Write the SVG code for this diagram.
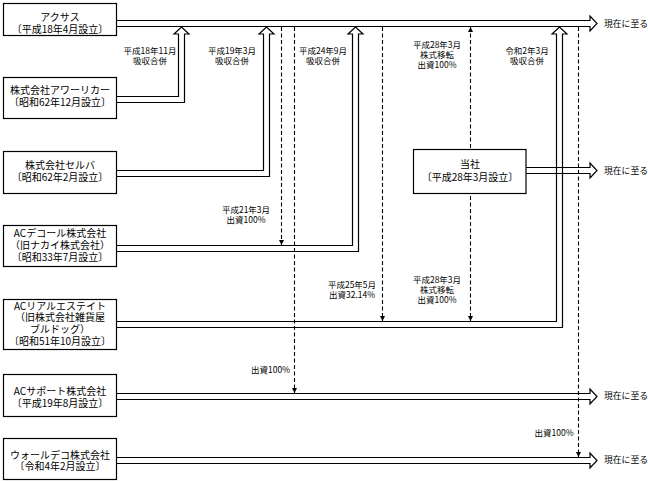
<svg xmlns="http://www.w3.org/2000/svg" width="648" height="483" viewBox="0 0 648 483">
<style>
.box{fill:#fff;stroke:#000;stroke-width:1.2}
.arr{fill:none;stroke:#000;stroke-width:1.2;stroke-linejoin:miter}
.dash{fill:none;stroke:#000;stroke-width:1.1;stroke-dasharray:4,2.5}
.bt{font-family:"Noto Sans CJK JP","Noto Sans CJK SC",sans-serif;font-size:10px;text-anchor:middle;fill:#000}
.lt{font-family:"Noto Sans CJK JP","Noto Sans CJK SC",sans-serif;font-size:8.5px;text-anchor:middle;fill:#000}
.rt{font-family:"Noto Sans CJK JP","Noto Sans CJK SC",sans-serif;font-size:8.8px;fill:#000}
</style>
<defs>
<marker id="ah" viewBox="0 0 6 6" refX="6" refY="3" markerWidth="5" markerHeight="5" orient="auto-start-reverse" markerUnits="userSpaceOnUse">
<path d="M0,0 L6,3 L0,6 z" fill="#000"/>
</marker>
</defs>
<rect width="648" height="483" fill="#fff"/>
<g id="connectors">
<path class="arr" d="M116.5,20.5 H590 V16 L597,23.5 L590,31 V26.5 H116.5"/>
<path class="arr" d="M116.5,96.5 H178.5 V34 H174 L181.5,27 L189,34 H184.5 V102.5 H116.5"/>
<path class="arr" d="M116.5,170.5 H263.5 V34 H259 L266.5,27 L274,34 H269.5 V176.5 H116.5"/>
<path class="arr" d="M116.5,245.5 H352.5 V34 H348 L355.5,27 L363,34 H358.5 V251.5 H116.5"/>
<path class="arr" d="M116.5,321.5 H556.5 V34 H552 L559.5,27 L567,34 H562.5 V327.5 H116.5"/>
<path class="arr" d="M526,167.5 H590 V163 L597,170.5 L590,178 V173.5 H526"/>
<path class="arr" d="M116.5,393.5 H590 V389 L597,396.5 L590,404 V399.5 H116.5"/>
<path class="arr" d="M116.5,457.5 H590 V453 L597,460.5 L590,468 V463.5 H116.5"/>
<path class="dash" d="M281.5,27 V245" marker-end="url(#ah)"/>
<path class="dash" d="M294.5,27 V393" marker-end="url(#ah)"/>
<path class="dash" d="M382.5,27 V321" marker-end="url(#ah)"/>
<path class="dash" d="M470.5,27 V321" marker-start="url(#ah)" marker-end="url(#ah)"/>
<path class="dash" d="M578.5,27 V457" marker-end="url(#ah)"/>
</g>
<g id="labels">
<text class="lt" x="150" y="54">平成18年11月</text>
<text class="lt" x="150" y="64">吸収合併</text>
<text class="lt" x="232" y="54">平成19年3月</text>
<text class="lt" x="232" y="64">吸収合併</text>
<text class="lt" x="323" y="54">平成24年9月</text>
<text class="lt" x="323" y="64">吸収合併</text>
<text class="lt" x="437" y="48">平成28年3月</text>
<text class="lt" x="437" y="58">株式移転</text>
<text class="lt" x="437" y="68">出資100%</text>
<text class="lt" x="527" y="54">令和2年3月</text>
<text class="lt" x="527" y="64">吸収合併</text>
<text class="lt" x="246" y="213">平成21年3月</text>
<text class="lt" x="246" y="223">出資100%</text>
<text class="lt" x="352" y="288">平成25年5月</text>
<text class="lt" x="352" y="298">出資32.14%</text>
<text class="lt" x="437" y="283">平成28年3月</text>
<text class="lt" x="437" y="293">株式移転</text>
<text class="lt" x="437" y="303">出資100%</text>
<text class="lt" x="290" y="373" style="text-anchor:end">出資100%</text>
<text class="lt" x="554" y="436">出資100%</text>
<text class="rt" x="604" y="27">現在に至る</text>
<text class="rt" x="604" y="174">現在に至る</text>
<text class="rt" x="604" y="399">現在に至る</text>
<text class="rt" x="604" y="463">現在に至る</text>
</g>
<g id="axsas">
<rect class="box" x="3.5" y="3.5" width="113" height="32"/>
<text class="bt" x="60" y="20.5">アクサス</text>
<text class="bt" x="60" y="33">〔平成18年4月設立〕</text>
</g>
<g id="aworeker">
<rect class="box" x="3.5" y="77.5" width="113" height="41"/>
<text class="bt" x="60" y="93.5">株式会社アワーリカー</text>
<text class="bt" x="60" y="105.5">〔昭和62年12月設立〕</text>
</g>
<g id="selba">
<rect class="box" x="3.5" y="151.5" width="113" height="42"/>
<text class="bt" x="60" y="168.5">株式会社セルバ</text>
<text class="bt" x="60" y="180.5">〔昭和62年2月設立〕</text>
</g>
<g id="acdecor">
<rect class="box" x="3.5" y="225.5" width="113" height="41"/>
<text class="bt" x="60" y="237">ACデコール株式会社</text>
<text class="bt" x="60" y="248.5">（旧ナカイ株式会社）</text>
<text class="bt" x="60" y="260.5">〔昭和33年7月設立〕</text>
</g>
<g id="acreal">
<rect class="box" x="3.5" y="299.5" width="113" height="50"/>
<text class="bt" x="60" y="309.5">ACリアルエステイト</text>
<text class="bt" x="60" y="321">（旧株式会社雑貨屋</text>
<text class="bt" x="60" y="333">ブルドッグ）</text>
<text class="bt" x="60" y="345">〔昭和51年10月設立〕</text>
</g>
<g id="acsupport">
<rect class="box" x="3.5" y="374.5" width="113" height="42"/>
<text class="bt" x="60" y="395">ACサポート株式会社</text>
<text class="bt" x="60" y="406.5">〔平成19年8月設立〕</text>
</g>
<g id="walldeco">
<rect class="box" x="3.5" y="438.5" width="113" height="41"/>
<text class="bt" x="60" y="458.5">ウォールデコ株式会社</text>
<text class="bt" x="60" y="470">〔令和4年2月設立〕</text>
</g>
<g id="tosha">
<rect class="box" x="413.5" y="149.5" width="112.5" height="44"/>
<text class="bt" x="470" y="167.5">当社</text>
<text class="bt" x="470" y="180.5">〔平成28年3月設立〕</text>
</g>
</svg>
